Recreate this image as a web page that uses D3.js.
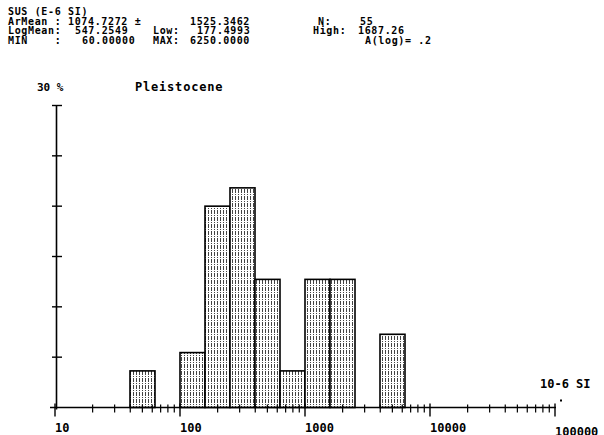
<!DOCTYPE html>
<html>
<head>
<meta charset="utf-8">
<script src="https://cdn.jsdelivr.net/npm/d3@7"></script>
<style>
  html, body { margin: 0; padding: 0; background: #fff; }
  svg { display: block; }
  text { font-family: "DejaVu Sans Mono", "Liberation Mono", monospace; font-weight: bold; fill: #000; }
</style>
</head>
<body>
<svg id="chart" width="604" height="435"></svg>
<script>
// Susceptibility histogram, Pleistocene samples (log-class width 0.2)
const sampleCount = 55;
const classWidthLog = 0.2;
// lower edge of each occupied class, as log10 of SUS (E-6 SI)
const classLowLog = [1.6, 2.0, 2.2, 2.4, 2.6, 2.8, 3.0, 3.2, 3.6];
// number of samples in each class
const classCounts = [2, 3, 11, 12, 7, 2, 7, 7, 4];
const xTickDecades = [10, 100, 1000, 10000, 100000];
const xTickLabels = ["10", "100", "1000", "10000", "100000"];
const yTicks = [0, 5, 10, 15, 20, 25, 30];

// statistics block printed above the plot
const headerLines = [
  [{ x: 8, t: "SUS (E-6 SI)" }],
  [{ x: 8, t: "ArMean :" }, { x: 68, t: "1074.7272 \u00b1" }, { x: 190, t: "1525.3462" }, { x: 318, t: "N:" }, { x: 360, t: "55" }],
  [{ x: 8, t: "LogMean:" }, { x: 75, t: "547.2549" }, { x: 153, t: "Low:" }, { x: 197, t: "177.4993" }, { x: 313, t: "High:" }, { x: 358, t: "1687.26" }],
  [{ x: 8, t: "MIN    :" }, { x: 82, t: "60.00000" }, { x: 153, t: "MAX:" }, { x: 190, t: "6250.0000" }, { x: 365, t: "A(log)= .2" }]
];

const svg = d3.select("#chart");

const x = d3.scaleLog().domain([10, 100000]).range([55, 555]);
const y = d3.scaleLinear().domain([0, 30]).range([407.5, 105.5]);

// vertical dashed stipple used as bar fill
const defs = svg.append("defs");
const pat = defs.append("pattern")
  .attr("id", "stipple").attr("patternUnits", "userSpaceOnUse")
  .attr("width", 3).attr("height", 7);
pat.append("rect").attr("width", 3).attr("height", 7).attr("fill", "#fff");
pat.append("line").attr("x1", 1.5).attr("x2", 1.5).attr("y1", 0).attr("y2", 7)
  .attr("stroke", "#444").attr("stroke-width", 1).attr("stroke-dasharray", "4,1,1,1");

// header
const header = svg.append("g").attr("font-size", 10).attr("letter-spacing", 0.65);
headerLines.forEach((line, i) => {
  line.forEach(p => {
    header.append("text").attr("x", p.x).attr("y", 15 + i * 9.5).attr("xml:space", "preserve").text(p.t);
  });
});

// titles
svg.append("text").attr("x", 37).attr("y", 91).attr("font-size", 11).text("30 %");
svg.append("text").attr("x", 135).attr("y", 91).attr("font-size", 12).attr("letter-spacing", 0.8).text("Pleistocene");
svg.append("text").attr("x", 540).attr("y", 388).attr("font-size", 12).attr("xml:space", "preserve").text("10-6 SI");
svg.append("rect").attr("x", 560).attr("y", 399.5).attr("width", 2).attr("height", 2).attr("fill", "#000");

// bars
const bins = classLowLog.map((lo, i) => ({
  x0: Math.pow(10, lo),
  x1: Math.pow(10, lo + classWidthLog),
  pct: classCounts[i] / sampleCount * 100
}));

svg.append("g").selectAll("rect").data(bins).join("rect")
  .attr("x", d => x(d.x0))
  .attr("y", d => y(d.pct))
  .attr("width", d => x(d.x1) - x(d.x0))
  .attr("height", d => y(0) - y(d.pct))
  .attr("fill", "url(#stipple)")
  .attr("stroke", "#000").attr("stroke-width", 1.6);

// y axis
const yAxis = svg.append("g").attr("stroke", "#000");
yAxis.append("line").attr("x1", 56.5).attr("x2", 56.5).attr("y1", y(30)).attr("y2", y(0) + 2).attr("stroke-width", 1.6);
yAxis.selectAll("line.tick").data(yTicks.filter(v => v > 0)).join("line")
  .attr("class", "tick")
  .attr("x1", 52).attr("x2", 62)
  .attr("y1", d => y(d)).attr("y2", d => y(d))
  .attr("stroke-width", 1.4);

// x axis with log minor ticks
const xAxisG = svg.append("g").attr("stroke", "#000");
xAxisG.append("line").attr("x1", 50).attr("x2", 556).attr("y1", y(0)).attr("y2", y(0)).attr("stroke-width", 1.6);
const minorTicks = x.ticks().filter(v => !xTickDecades.includes(v));
xAxisG.selectAll("line.minor").data(minorTicks).join("line")
  .attr("class", "minor")
  .attr("x1", d => x(d)).attr("x2", d => x(d))
  .attr("y1", y(0) - 3).attr("y2", y(0) + 5)
  .attr("stroke-width", 1.2);
xAxisG.selectAll("line.major").data(xTickDecades).join("line")
  .attr("class", "major")
  .attr("x1", d => x(d)).attr("x2", d => x(d))
  .attr("y1", y(0) - 4).attr("y2", y(0) + 9)
  .attr("stroke-width", 1.4);

// decade labels start at their tick
svg.append("g").attr("font-size", 12)
  .selectAll("text").data(xTickDecades).join("text")
  .attr("x", d => x(d))
  .attr("y", (d, i) => i === xTickDecades.length - 1 ? 436 : 431.5)
  .text((d, i) => xTickLabels[i]);
</script>
</body>
</html>
